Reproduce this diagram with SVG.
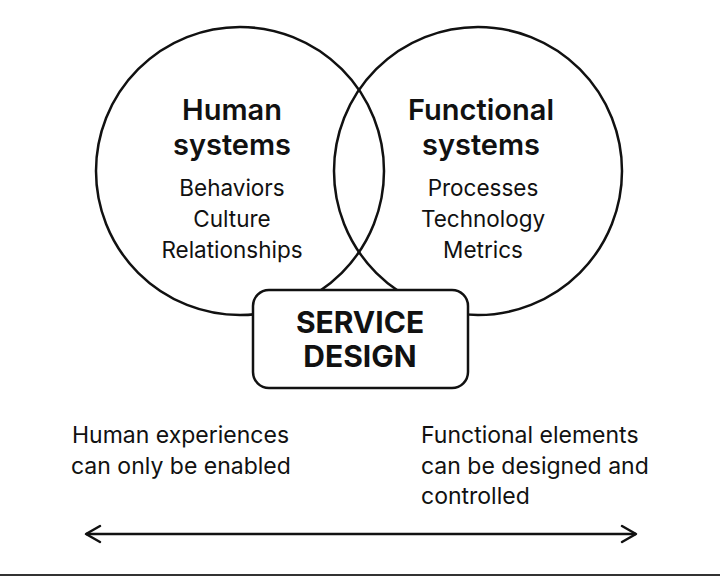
<svg xmlns="http://www.w3.org/2000/svg" width="720" height="576" viewBox="0 0 720 576">
<style>
.c{fill:none;stroke:#111;stroke-width:2.5}
.t{font-family:Inter,"Liberation Sans",sans-serif;fill:#111;text-anchor:middle}
.h{font-size:29px;font-weight:600}
.s{font-size:22.5px}
.b{font-size:30px;font-weight:700}
.l{font-family:Inter,"Liberation Sans",sans-serif;fill:#111;font-size:23px}
</style>
<defs>
<marker id="ah" viewBox="0 0 20 20" refX="16" refY="10" markerWidth="20" markerHeight="20" markerUnits="userSpaceOnUse" orient="auto-start-reverse">
<path d="M2,2 L16,10 L2,18" fill="none" stroke="#111" stroke-width="2.5" stroke-linecap="round" stroke-linejoin="round"/>
</marker>
</defs>
<rect width="720" height="576" fill="#fff"/>
<g id="human">
<circle class="c" cx="240" cy="171" r="144"/>
<text class="t h" x="232" y="120">Human</text>
<text class="t h" x="232" y="155">systems</text>
<text class="t s" x="232" y="196">Behaviors</text>
<text class="t s" x="232" y="227">Culture</text>
<text class="t s" x="232" y="258">Relationships</text>
</g>
<g id="functional">
<circle class="c" cx="478" cy="171" r="144"/>
<text class="t h" x="481" y="120">Functional</text>
<text class="t h" x="481" y="155">systems</text>
<text class="t s" x="483" y="196">Processes</text>
<text class="t s" x="483" y="227">Technology</text>
<text class="t s" x="483" y="258">Metrics</text>
</g>
<g id="service">
<rect x="253" y="290" width="215" height="98" rx="16" fill="#fff" stroke="#111" stroke-width="2.5"/>
<text class="t b" x="360" y="333">SERVICE</text>
<text class="t b" x="360" y="367">DESIGN</text>
</g>
<g id="left-note">
<text class="l" x="72" y="443">Human experiences</text>
<text class="l" x="71" y="474">can only be enabled</text>
</g>
<g id="right-note">
<text class="l" x="421" y="443">Functional elements</text>
<text class="l" x="421" y="474">can be designed and</text>
<text class="l" x="421" y="504">controlled</text>
</g>
<g id="connectors">
<line x1="86" y1="534" x2="636" y2="534" stroke="#111" stroke-width="2.5" marker-start="url(#ah)" marker-end="url(#ah)"/>
</g>
<line x1="0" y1="575" x2="720" y2="575" stroke="#333" stroke-width="2"/>
</svg>
